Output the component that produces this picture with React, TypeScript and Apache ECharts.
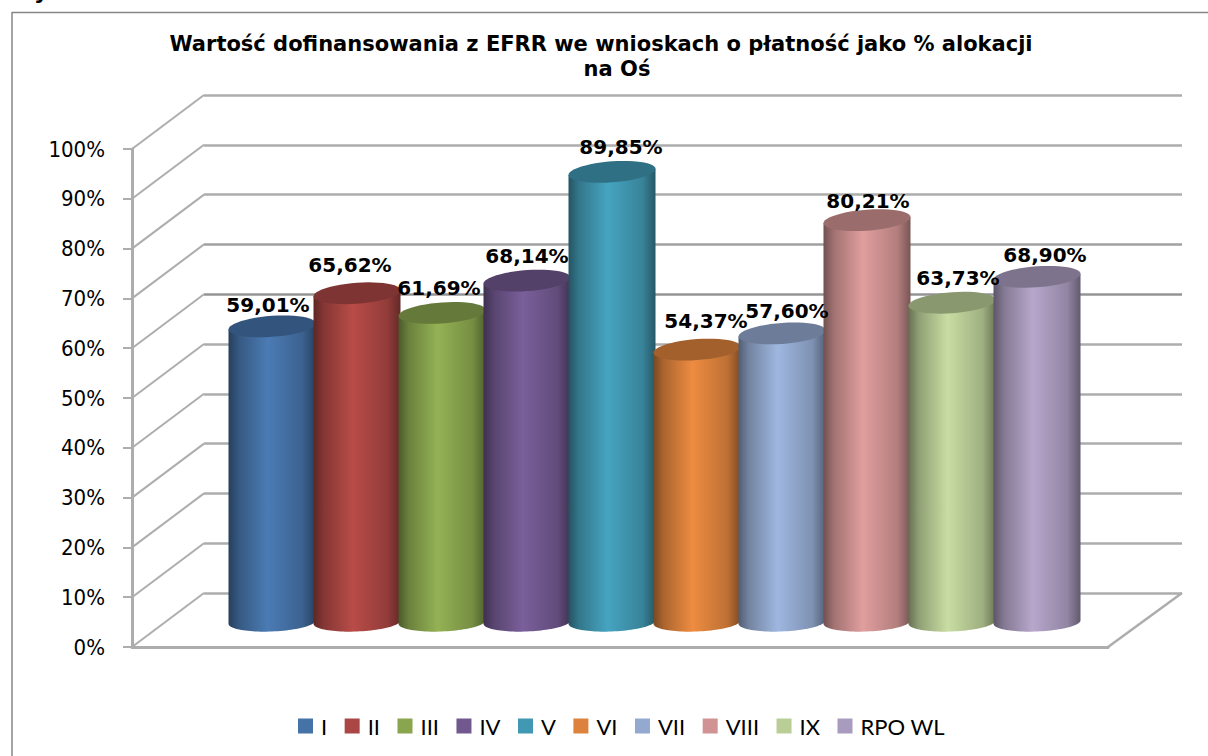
import React, { useEffect, useRef } from "react";
import * as echarts from "echarts";

const TITLE_LINE_1 = "Wartość dofinansowania z EFRR we wnioskach o płatność jako % alokacji";
const TITLE_LINE_2 = "na Oś";
const CATEGORIES = ["I", "II", "III", "IV", "V", "VI", "VII", "VIII", "IX", "RPO WL"];
const VALUES = [59.01, 65.62, 61.69, 68.14, 89.85, 54.37, 57.6, 80.21, 63.73, 68.9];
const COLORS = ["#4572A7", "#AA4643", "#89A54E", "#71588F", "#4198B2", "#DC823C", "#93A9CF", "#D09292", "#B9CD96", "#A99BBD"];
const LABEL_DX = [-4, -7, -3, 0, 9, 9, 5, 1, 6, 8];
const LABEL_DY = [-21, -28, -25, -25, -25, -29, -22, -19, -25, -22];
const TICKS = [0, 10, 20, 30, 40, 50, 60, 70, 80, 90, 100];

const FONT = "'DejaVu Sans', Verdana, sans-serif";
const GRID_GRAY = "#adadad";
const DEPTH_X = 72;
const DEPTH_Y = -54;

function shade(hex: string, k: number) {
  const n = parseInt(hex.slice(1), 16);
  const c = [(n >> 16) & 255, (n >> 8) & 255, n & 255].map((v) => Math.min(255, Math.round(v * k)));
  return `rgb(${c[0]},${c[1]},${c[2]})`;
}

function ellipsePoints(cx: number, cy: number, rx: number, ry: number, skew: number, from: number, to: number) {
  const pts: number[][] = [];
  const n = 48;
  for (let i = 0; i <= n; i++) {
    const t = from + ((to - from) * i) / n;
    const dx = rx * Math.cos(t);
    pts.push([cx + dx, cy + ry * Math.sin(t) + skew * dx]);
  }
  return pts;
}

function cylinder(color: string) {
  return (params: any, api: any) => {
    const top = api.coord([api.value(0), api.value(1)]);
    const base = api.coord([api.value(0), 0]);
    const rx = 43.5;
    const ry = 10.5;
    const skewTop = -0.07;
    const skewBase = -0.04;
    const topLeft = [top[0] - rx, top[1] - skewTop * rx];
    const topRight = [top[0] + rx, top[1] + skewTop * rx];
    const bottom = ellipsePoints(base[0], base[1], rx, ry - 1, skewBase, 0, Math.PI);
    const body = [topRight, ...bottom, topLeft];
    const fill = {
      type: "linear",
      x: 0,
      y: 0,
      x2: 1,
      y2: 0,
      colorStops: [
        { offset: 0, color: shade(color, 0.55) },
        { offset: 0.12, color: shade(color, 0.78) },
        { offset: 0.45, color: shade(color, 1.08) },
        { offset: 0.85, color: shade(color, 0.86) },
        { offset: 1, color: shade(color, 0.58) },
      ],
    };
    return {
      type: "group",
      children: [
        { type: "polygon", shape: { points: body }, style: { fill } },
        {
          type: "polygon",
          shape: { points: ellipsePoints(top[0], top[1], rx, ry, skewTop, 0, Math.PI * 2) },
          style: { fill: shade(color, 0.74) },
        },
      ],
    };
  };
}

export default function App() {
  const ref = useRef<HTMLDivElement>(null);
  useEffect(() => {
    const chart = echarts.init(ref.current!, undefined, { renderer: "svg" });
    const hiddenX = (gridIndex: number) => ({
      type: "category",
      gridIndex,
      data: CATEGORIES,
      axisLabel: { show: false },
      axisTick: { show: false },
      axisLine: { show: false },
    });
    const hiddenY = (gridIndex: number) => ({
      type: "value",
      gridIndex,
      min: 0,
      max: 100,
      interval: 10,
      axisLabel: { show: false },
      axisTick: { show: false },
      axisLine: { show: false },
      splitLine: { show: false },
    });
    const titleStyle = { fontFamily: FONT, fontWeight: "bold", fontSize: 21, lineHeight: 25, color: "#000" };
    chart.setOption({
      animation: false,
      backgroundColor: "#fff",
      title: [
        { text: TITLE_LINE_1, left: 596, top: 26, textAlign: "center", textStyle: titleStyle },
        { text: TITLE_LINE_2, left: 612, top: 51, textAlign: "center", textStyle: titleStyle },
      ],
      legend: {
        left: 293,
        top: 710,
        data: CATEGORIES,
        icon: "rect",
        itemWidth: 15,
        itemHeight: 15,
        itemGap: 17.5,
        textStyle: { fontFamily: "Lato, sans-serif", fontSize: 22, color: "#000", padding: [0, 0, 0, 3] },
      },
      grid: [
        { left: 132, top: 149, width: 976, height: 498 },
        { left: 204, top: 95, width: 978, height: 498 },
        { left: 229.5, top: 121, width: 850, height: 501 },
      ],
      xAxis: [
        {
          ...hiddenX(0),
          axisLine: { show: true, onZero: false, lineStyle: { color: GRID_GRAY, width: 3 } },
        },
        hiddenX(1),
        hiddenX(2),
      ],
      yAxis: [
        {
          ...hiddenY(0),
          axisLine: { show: true, lineStyle: { color: GRID_GRAY, width: 3 } },
          axisTick: { show: true, length: 9, lineStyle: { color: GRID_GRAY, width: 2 } },
          axisLabel: {
            show: true,
            formatter: "{value}%",
            fontFamily: "'DejaVu Sans Condensed', 'DejaVu Sans', sans-serif",
            fontSize: 22,
            color: "#000",
            margin: 27,
          },
        },
        {
          ...hiddenY(1),
          splitLine: {
            show: true,
            lineStyle: {
              width: 2.5,
              color: [GRID_GRAY, GRID_GRAY, GRID_GRAY, GRID_GRAY, GRID_GRAY, GRID_GRAY, "#949494", "#a0a0a0", GRID_GRAY, GRID_GRAY, GRID_GRAY],
            },
          },
        },
        hiddenY(2),
      ],
      graphic: [
        { type: "line", shape: { x1: 12, y1: 12.5, x2: 1208, y2: 12.5 }, style: { stroke: "#868686", lineWidth: 1.5 } },
        { type: "line", shape: { x1: 12, y1: 12, x2: 12, y2: 756 }, style: { stroke: "#868686", lineWidth: 1.5 } },
        {
          type: "text",
          x: 34,
          y: -20,
          style: { text: "y", fontFamily: FONT, fontWeight: "bold", fontSize: 22, fill: "#000", verticalAlign: "top" },
        },
      ],
      series: [
        {
          name: "diagonals",
          type: "custom",
          xAxisIndex: 0,
          yAxisIndex: 0,
          silent: true,
          data: TICKS.map((t) => [CATEGORIES[0], t]),
          renderItem: (params: any, api: any) => {
            const y = api.coord([api.value(0), api.value(1)])[1];
            const x = params.coordSys.x;
            return {
              type: "line",
              shape: { x1: x, y1: y, x2: x + DEPTH_X, y2: y + DEPTH_Y },
              style: { stroke: GRID_GRAY, lineWidth: 2 },
            };
          },
        },
        {
          name: "floor",
          type: "custom",
          xAxisIndex: 0,
          yAxisIndex: 0,
          silent: true,
          data: [[CATEGORIES[0], 0]],
          renderItem: (params: any, api: any) => {
            const y = api.coord([api.value(0), api.value(1)])[1];
            const x = params.coordSys.x + params.coordSys.width;
            return {
              type: "line",
              shape: { x1: x, y1: y, x2: x + DEPTH_X + 2, y2: y + DEPTH_Y },
              style: { stroke: GRID_GRAY, lineWidth: 2.5 },
            };
          },
        },
        ...CATEGORIES.map((name, i) => ({
          name,
          type: "custom",
          xAxisIndex: 2,
          yAxisIndex: 2,
          z: 3,
          itemStyle: { color: COLORS[i] },
          data: [[name, VALUES[i]]],
          renderItem: cylinder(COLORS[i]),
        })),
        {
          name: "labels",
          type: "custom",
          xAxisIndex: 2,
          yAxisIndex: 2,
          z: 5,
          silent: true,
          data: CATEGORIES.map((c, i) => [c, VALUES[i]]),
          renderItem: (params: any, api: any) => {
            const p = api.coord([api.value(0), api.value(1)]);
            const i = params.dataIndex;
            return {
              type: "text",
              x: p[0] + LABEL_DX[i],
              y: p[1] + LABEL_DY[i],
              style: {
                text: VALUES[i].toFixed(2).replace(".", ",") + "%",
                fontFamily: FONT,
                fontWeight: "bold",
                fontSize: 20,
                fill: "#000",
                align: "center",
                verticalAlign: "middle",
              },
            };
          },
        },
      ],
    });
    return () => chart.dispose();
  }, []);
  return <div ref={ref} style={{ position: "fixed", left: 0, top: 0, width: 1208, height: 756 }} />;
}
